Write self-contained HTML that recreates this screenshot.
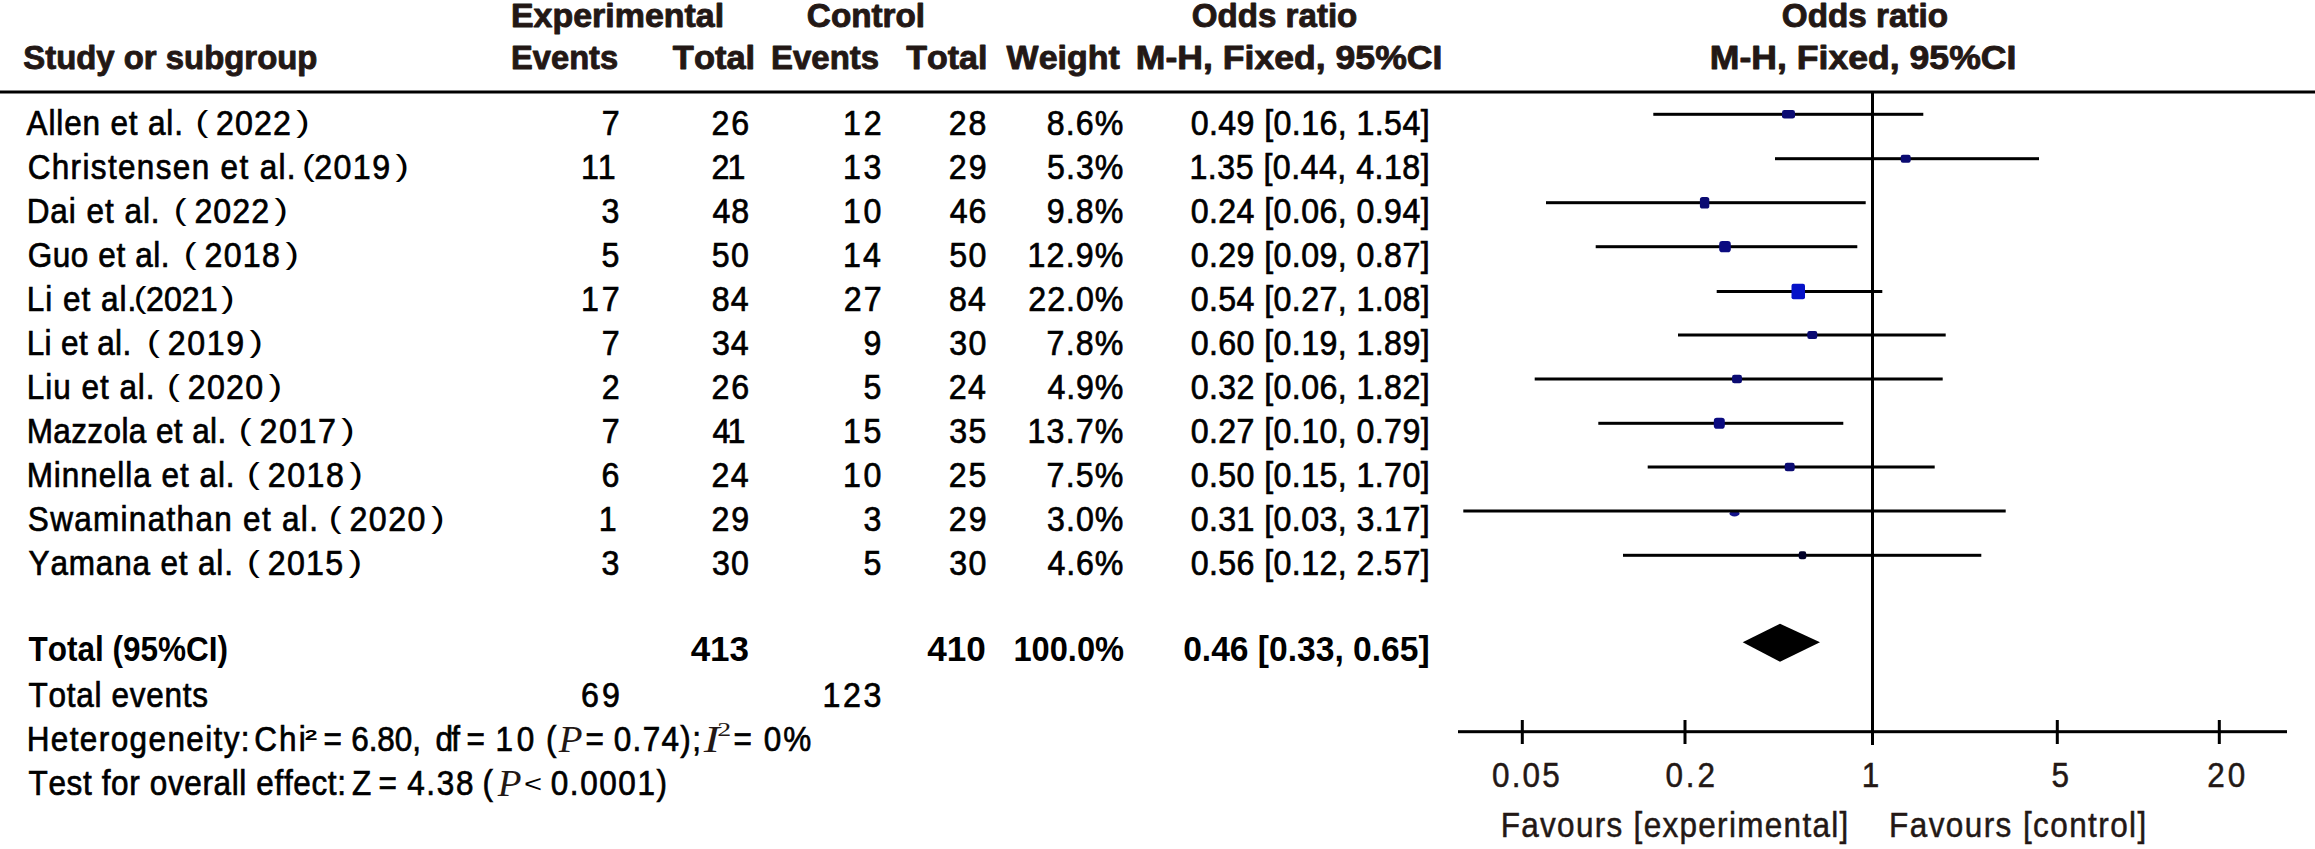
<!DOCTYPE html>
<html><head><meta charset="utf-8"><style>
html,body{margin:0;padding:0;background:#fff;width:2315px;height:849px;overflow:hidden}
svg{display:block}
text{font-family:"Liberation Sans", sans-serif;font-kerning:none;font-feature-settings:"kern" 0,"liga" 0}
text.serif{font-family:"Liberation Serif", serif}
</style></head><body>
<svg width="2315" height="849" viewBox="0 0 2315 849">
<rect width="2315" height="849" fill="#fff"/>
<rect x="0" y="90.5" width="2315" height="3" fill="#000"/>
<rect x="1871" y="92" width="3" height="653" fill="#000"/>
<rect x="1458" y="730.2" width="829" height="3" fill="#000"/>
<rect x="1520.8" y="720" width="3" height="24" fill="#000"/>
<rect x="1683.5" y="720" width="3" height="24" fill="#000"/>
<rect x="2055.8" y="720" width="3" height="24" fill="#000"/>
<rect x="2217.8" y="720" width="3" height="24" fill="#000"/>
<rect x="1871" y="720" width="3" height="25" fill="#000"/>
<rect x="1653.3" y="112.8" width="270.0" height="3" fill="#000"/>
<rect x="1782.0" y="110.0" width="13" height="8.6" rx="2.4" fill="#0b0b72"/>
<rect x="1775.0" y="157.2" width="264.0" height="3" fill="#000"/>
<rect x="1900.7" y="154.7" width="10" height="8" rx="2.2" fill="#0b0b72"/>
<rect x="1546.0" y="201.2" width="319.7" height="3" fill="#000"/>
<rect x="1699.9" y="196.9" width="9.4" height="11.6" rx="2.6" fill="#0b0b72"/>
<rect x="1595.7" y="245.2" width="261.6" height="3" fill="#000"/>
<rect x="1719.2" y="241.1" width="11.6" height="11.2" rx="3.1" fill="#0b0b80"/>
<rect x="1716.7" y="290.0" width="165.6" height="3" fill="#000"/>
<rect x="1791.5" y="283.7" width="13.5" height="15.6" rx="2.0" fill="#0612c8"/>
<rect x="1678.0" y="333.5" width="267.7" height="3" fill="#000"/>
<rect x="1807.3" y="331.0" width="10" height="8" rx="2.2" fill="#0b0b72"/>
<rect x="1534.7" y="377.5" width="408.0" height="3" fill="#000"/>
<rect x="1732.0" y="374.8" width="10" height="8.5" rx="2.4" fill="#0b0b72"/>
<rect x="1598.3" y="421.8" width="245.0" height="3" fill="#000"/>
<rect x="1713.8" y="417.8" width="11" height="11" rx="3.1" fill="#0b0b80"/>
<rect x="1647.7" y="465.5" width="287.0" height="3" fill="#000"/>
<rect x="1784.7" y="462.8" width="10" height="8.5" rx="2.4" fill="#0b0b72"/>
<ellipse cx="1734.5" cy="513.5" rx="5.0" ry="3.0" fill="#14148a"/>
<rect x="1463.3" y="509.5" width="542.4" height="3" fill="#000"/>
<rect x="1623.0" y="553.8" width="358.3" height="3" fill="#000"/>
<rect x="1798.8" y="551.3" width="7.4" height="8" rx="2.1" fill="#000028"/>
<polygon points="1742.7,642.3 1780,623.7 1820,642.3 1780,661.7" fill="#000"/>
<text x="510.98" y="27.00" textLength="213.17" lengthAdjust="spacingAndGlyphs" font-size="33" font-weight="bold" fill="#231815" stroke="#231815" stroke-width="0.9" stroke-linejoin="round">Experimental</text>
<text x="806.89" y="27.00" textLength="118.22" lengthAdjust="spacingAndGlyphs" font-size="33" font-weight="bold" fill="#231815" stroke="#231815" stroke-width="0.9" stroke-linejoin="round">Control</text>
<text x="1191.89" y="27.00" textLength="165.45" lengthAdjust="spacingAndGlyphs" font-size="33" font-weight="bold" fill="#231815" stroke="#231815" stroke-width="0.9" stroke-linejoin="round">Odds ratio</text>
<text x="1781.89" y="27.00" textLength="166.16" lengthAdjust="spacingAndGlyphs" font-size="33" font-weight="bold" fill="#231815" stroke="#231815" stroke-width="0.9" stroke-linejoin="round">Odds ratio</text>
<text x="23.30" y="69.00" textLength="294.10" lengthAdjust="spacingAndGlyphs" font-size="33" font-weight="bold" fill="#231815" stroke="#231815" stroke-width="0.9" stroke-linejoin="round">Study or subgroup</text>
<text x="511.07" y="69.00" textLength="107.02" lengthAdjust="spacingAndGlyphs" font-size="33" font-weight="bold" fill="#231815" stroke="#231815" stroke-width="0.9" stroke-linejoin="round">Events</text>
<text x="672.86" y="69.00" textLength="82.33" lengthAdjust="spacingAndGlyphs" font-size="33" font-weight="bold" fill="#231815" stroke="#231815" stroke-width="0.9" stroke-linejoin="round">Total</text>
<text x="771.05" y="69.00" textLength="108.06" lengthAdjust="spacingAndGlyphs" font-size="33" font-weight="bold" fill="#231815" stroke="#231815" stroke-width="0.9" stroke-linejoin="round">Events</text>
<text x="906.27" y="69.00" textLength="81.19" lengthAdjust="spacingAndGlyphs" font-size="33" font-weight="bold" fill="#231815" stroke="#231815" stroke-width="0.9" stroke-linejoin="round">Total</text>
<text x="1006.62" y="69.00" textLength="113.15" lengthAdjust="spacingAndGlyphs" font-size="33" font-weight="bold" fill="#231815" stroke="#231815" stroke-width="0.9" stroke-linejoin="round">Weight</text>
<text x="1135.87" y="69.00" textLength="306.56" lengthAdjust="spacingAndGlyphs" font-size="33" font-weight="bold" fill="#231815" stroke="#231815" stroke-width="0.9" stroke-linejoin="round">M-H, Fixed, 95%CI</text>
<text x="1709.87" y="69.00" textLength="306.56" lengthAdjust="spacingAndGlyphs" font-size="33" font-weight="bold" fill="#231815" stroke="#231815" stroke-width="0.9" stroke-linejoin="round">M-H, Fixed, 95%CI</text>
<g transform="scale(0.9,1)"><text x="29.54" y="135.00" textLength="173.71" lengthAdjust="spacing" font-size="35" font-weight="normal" fill="#000" stroke="#000" stroke-width="0.7">Allen et al.</text></g>
<text x="195.41" y="131.50" textLength="12.81" lengthAdjust="spacingAndGlyphs" font-size="30" font-weight="normal" fill="#000">(</text>
<text x="296.26" y="131.50" textLength="13.44" lengthAdjust="spacingAndGlyphs" font-size="30" font-weight="normal" fill="#000">)</text>
<g transform="scale(0.92,1)"><text x="234.82" y="135.00" textLength="81.35" lengthAdjust="spacing" font-size="35" font-weight="normal" fill="#000" stroke="#000" stroke-width="0.7">2022</text></g>
<g transform="scale(0.92,1)"><text x="654.03" y="135.00" font-size="35" font-weight="normal" fill="#000" stroke="#000" stroke-width="0.7">7</text></g>
<g transform="scale(0.92,1)"><text x="773.40" y="135.00" textLength="40.91" lengthAdjust="spacing" font-size="35" font-weight="normal" fill="#000" stroke="#000" stroke-width="0.7">26</text></g>
<g transform="scale(0.92,1)"><text x="916.30" y="135.00" textLength="42.03" lengthAdjust="spacing" font-size="35" font-weight="normal" fill="#000" stroke="#000" stroke-width="0.7">12</text></g>
<g transform="scale(0.92,1)"><text x="1031.34" y="135.00" textLength="40.89" lengthAdjust="spacing" font-size="35" font-weight="normal" fill="#000" stroke="#000" stroke-width="0.7">28</text></g>
<g transform="scale(0.92,1)"><text x="1137.88" y="135.00" textLength="83.31" lengthAdjust="spacing" font-size="35" font-weight="normal" fill="#000" stroke="#000" stroke-width="0.7">8.6%</text></g>
<g transform="scale(0.92,1)"><text x="1294.23" y="135.00" textLength="259.73" lengthAdjust="spacing" font-size="35" font-weight="normal" fill="#000" stroke="#000" stroke-width="0.7">0.49 [0.16, 1.54]</text></g>
<g transform="scale(0.9,1)"><text x="30.72" y="179.00" textLength="297.75" lengthAdjust="spacing" font-size="35" font-weight="normal" fill="#000" stroke="#000" stroke-width="0.7">Christensen et al.</text></g>
<text x="302.11" y="175.50" textLength="12.81" lengthAdjust="spacingAndGlyphs" font-size="30" font-weight="normal" fill="#000">(</text>
<text x="395.56" y="175.50" textLength="13.44" lengthAdjust="spacingAndGlyphs" font-size="30" font-weight="normal" fill="#000">)</text>
<g transform="scale(0.92,1)"><text x="341.66" y="179.00" textLength="82.33" lengthAdjust="spacing" font-size="35" font-weight="normal" fill="#000" stroke="#000" stroke-width="0.7">2019</text></g>
<g transform="scale(0.92,1)"><text x="631.52" y="179.00" textLength="37.64" lengthAdjust="spacing" font-size="35" font-weight="normal" fill="#000" stroke="#000" stroke-width="0.7">11</text></g>
<g transform="scale(0.92,1)"><text x="773.40" y="179.00" textLength="36.73" lengthAdjust="spacing" font-size="35" font-weight="normal" fill="#000" stroke="#000" stroke-width="0.7">21</text></g>
<g transform="scale(0.92,1)"><text x="916.30" y="179.00" textLength="41.81" lengthAdjust="spacing" font-size="35" font-weight="normal" fill="#000" stroke="#000" stroke-width="0.7">13</text></g>
<g transform="scale(0.92,1)"><text x="1031.34" y="179.00" textLength="41.03" lengthAdjust="spacing" font-size="35" font-weight="normal" fill="#000" stroke="#000" stroke-width="0.7">29</text></g>
<g transform="scale(0.92,1)"><text x="1138.00" y="179.00" textLength="83.19" lengthAdjust="spacing" font-size="35" font-weight="normal" fill="#000" stroke="#000" stroke-width="0.7">5.3%</text></g>
<g transform="scale(0.92,1)"><text x="1292.93" y="179.00" textLength="261.03" lengthAdjust="spacing" font-size="35" font-weight="normal" fill="#000" stroke="#000" stroke-width="0.7">1.35 [0.44, 4.18]</text></g>
<g transform="scale(0.9,1)"><text x="29.63" y="223.00" textLength="147.73" lengthAdjust="spacing" font-size="35" font-weight="normal" fill="#000" stroke="#000" stroke-width="0.7">Dai et al.</text></g>
<text x="173.81" y="219.50" textLength="12.81" lengthAdjust="spacingAndGlyphs" font-size="30" font-weight="normal" fill="#000">(</text>
<text x="274.56" y="219.50" textLength="13.44" lengthAdjust="spacingAndGlyphs" font-size="30" font-weight="normal" fill="#000">)</text>
<g transform="scale(0.92,1)"><text x="211.34" y="223.00" textLength="81.24" lengthAdjust="spacing" font-size="35" font-weight="normal" fill="#000" stroke="#000" stroke-width="0.7">2022</text></g>
<g transform="scale(0.92,1)"><text x="653.81" y="223.00" font-size="35" font-weight="normal" fill="#000" stroke="#000" stroke-width="0.7">3</text></g>
<g transform="scale(0.92,1)"><text x="774.36" y="223.00" textLength="39.93" lengthAdjust="spacing" font-size="35" font-weight="normal" fill="#000" stroke="#000" stroke-width="0.7">48</text></g>
<g transform="scale(0.92,1)"><text x="916.30" y="223.00" textLength="41.64" lengthAdjust="spacing" font-size="35" font-weight="normal" fill="#000" stroke="#000" stroke-width="0.7">10</text></g>
<g transform="scale(0.92,1)"><text x="1032.29" y="223.00" textLength="39.95" lengthAdjust="spacing" font-size="35" font-weight="normal" fill="#000" stroke="#000" stroke-width="0.7">46</text></g>
<g transform="scale(0.92,1)"><text x="1137.76" y="223.00" textLength="83.43" lengthAdjust="spacing" font-size="35" font-weight="normal" fill="#000" stroke="#000" stroke-width="0.7">9.8%</text></g>
<g transform="scale(0.92,1)"><text x="1294.23" y="223.00" textLength="259.73" lengthAdjust="spacing" font-size="35" font-weight="normal" fill="#000" stroke="#000" stroke-width="0.7">0.24 [0.06, 0.94]</text></g>
<g transform="scale(0.9,1)"><text x="30.74" y="267.00" textLength="157.73" lengthAdjust="spacing" font-size="35" font-weight="normal" fill="#000" stroke="#000" stroke-width="0.7">Guo et al.</text></g>
<text x="183.81" y="263.50" textLength="12.81" lengthAdjust="spacingAndGlyphs" font-size="30" font-weight="normal" fill="#000">(</text>
<text x="285.56" y="263.50" textLength="13.44" lengthAdjust="spacingAndGlyphs" font-size="30" font-weight="normal" fill="#000">)</text>
<g transform="scale(0.92,1)"><text x="222.21" y="267.00" textLength="82.09" lengthAdjust="spacing" font-size="35" font-weight="normal" fill="#000" stroke="#000" stroke-width="0.7">2018</text></g>
<g transform="scale(0.92,1)"><text x="653.74" y="267.00" font-size="35" font-weight="normal" fill="#000" stroke="#000" stroke-width="0.7">5</text></g>
<g transform="scale(0.92,1)"><text x="773.76" y="267.00" textLength="40.38" lengthAdjust="spacing" font-size="35" font-weight="normal" fill="#000" stroke="#000" stroke-width="0.7">50</text></g>
<g transform="scale(0.92,1)"><text x="916.30" y="267.00" textLength="41.30" lengthAdjust="spacing" font-size="35" font-weight="normal" fill="#000" stroke="#000" stroke-width="0.7">14</text></g>
<g transform="scale(0.92,1)"><text x="1031.70" y="267.00" textLength="40.38" lengthAdjust="spacing" font-size="35" font-weight="normal" fill="#000" stroke="#000" stroke-width="0.7">50</text></g>
<g transform="scale(0.92,1)"><text x="1116.84" y="267.00" textLength="104.35" lengthAdjust="spacing" font-size="35" font-weight="normal" fill="#000" stroke="#000" stroke-width="0.7">12.9%</text></g>
<g transform="scale(0.92,1)"><text x="1294.23" y="267.00" textLength="259.73" lengthAdjust="spacing" font-size="35" font-weight="normal" fill="#000" stroke="#000" stroke-width="0.7">0.29 [0.09, 0.87]</text></g>
<g transform="scale(0.9,1)"><text x="29.63" y="311.00" textLength="121.73" lengthAdjust="spacing" font-size="35" font-weight="normal" fill="#000" stroke="#000" stroke-width="0.7">Li et al.</text></g>
<text x="133.81" y="307.50" textLength="12.81" lengthAdjust="spacingAndGlyphs" font-size="30" font-weight="normal" fill="#000">(</text>
<text x="221.26" y="307.50" textLength="13.44" lengthAdjust="spacingAndGlyphs" font-size="30" font-weight="normal" fill="#000">)</text>
<g transform="scale(0.92,1)"><text x="158.73" y="311.00" textLength="77.82" lengthAdjust="spacing" font-size="35" font-weight="normal" fill="#000" stroke="#000" stroke-width="0.7">2021</text></g>
<g transform="scale(0.92,1)"><text x="631.52" y="311.00" textLength="42.03" lengthAdjust="spacing" font-size="35" font-weight="normal" fill="#000" stroke="#000" stroke-width="0.7">17</text></g>
<g transform="scale(0.92,1)"><text x="773.64" y="311.00" textLength="40.16" lengthAdjust="spacing" font-size="35" font-weight="normal" fill="#000" stroke="#000" stroke-width="0.7">84</text></g>
<g transform="scale(0.92,1)"><text x="917.21" y="311.00" textLength="41.13" lengthAdjust="spacing" font-size="35" font-weight="normal" fill="#000" stroke="#000" stroke-width="0.7">27</text></g>
<g transform="scale(0.92,1)"><text x="1031.58" y="311.00" textLength="40.16" lengthAdjust="spacing" font-size="35" font-weight="normal" fill="#000" stroke="#000" stroke-width="0.7">84</text></g>
<g transform="scale(0.92,1)"><text x="1117.75" y="311.00" textLength="103.44" lengthAdjust="spacing" font-size="35" font-weight="normal" fill="#000" stroke="#000" stroke-width="0.7">22.0%</text></g>
<g transform="scale(0.92,1)"><text x="1294.23" y="311.00" textLength="259.73" lengthAdjust="spacing" font-size="35" font-weight="normal" fill="#000" stroke="#000" stroke-width="0.7">0.54 [0.27, 1.08]</text></g>
<g transform="scale(0.9,1)"><text x="29.63" y="355.00" textLength="116.18" lengthAdjust="spacing" font-size="35" font-weight="normal" fill="#000" stroke="#000" stroke-width="0.7">Li et al.</text></g>
<text x="147.11" y="351.50" textLength="12.81" lengthAdjust="spacingAndGlyphs" font-size="30" font-weight="normal" fill="#000">(</text>
<text x="249.56" y="351.50" textLength="13.44" lengthAdjust="spacingAndGlyphs" font-size="30" font-weight="normal" fill="#000">)</text>
<g transform="scale(0.92,1)"><text x="182.32" y="355.00" textLength="82.98" lengthAdjust="spacing" font-size="35" font-weight="normal" fill="#000" stroke="#000" stroke-width="0.7">2019</text></g>
<g transform="scale(0.92,1)"><text x="654.03" y="355.00" font-size="35" font-weight="normal" fill="#000" stroke="#000" stroke-width="0.7">7</text></g>
<g transform="scale(0.92,1)"><text x="773.83" y="355.00" textLength="39.97" lengthAdjust="spacing" font-size="35" font-weight="normal" fill="#000" stroke="#000" stroke-width="0.7">34</text></g>
<g transform="scale(0.92,1)"><text x="938.71" y="355.00" font-size="35" font-weight="normal" fill="#000" stroke="#000" stroke-width="0.7">9</text></g>
<g transform="scale(0.92,1)"><text x="1031.76" y="355.00" textLength="40.31" lengthAdjust="spacing" font-size="35" font-weight="normal" fill="#000" stroke="#000" stroke-width="0.7">30</text></g>
<g transform="scale(0.92,1)"><text x="1137.61" y="355.00" textLength="83.59" lengthAdjust="spacing" font-size="35" font-weight="normal" fill="#000" stroke="#000" stroke-width="0.7">7.8%</text></g>
<g transform="scale(0.92,1)"><text x="1294.23" y="355.00" textLength="259.73" lengthAdjust="spacing" font-size="35" font-weight="normal" fill="#000" stroke="#000" stroke-width="0.7">0.60 [0.19, 1.89]</text></g>
<g transform="scale(0.9,1)"><text x="29.63" y="399.00" textLength="142.18" lengthAdjust="spacing" font-size="35" font-weight="normal" fill="#000" stroke="#000" stroke-width="0.7">Liu et al.</text></g>
<text x="167.11" y="395.50" textLength="12.81" lengthAdjust="spacingAndGlyphs" font-size="30" font-weight="normal" fill="#000">(</text>
<text x="268.86" y="395.50" textLength="13.44" lengthAdjust="spacingAndGlyphs" font-size="30" font-weight="normal" fill="#000">)</text>
<g transform="scale(0.92,1)"><text x="204.05" y="399.00" textLength="81.93" lengthAdjust="spacing" font-size="35" font-weight="normal" fill="#000" stroke="#000" stroke-width="0.7">2020</text></g>
<g transform="scale(0.92,1)"><text x="654.03" y="399.00" font-size="35" font-weight="normal" fill="#000" stroke="#000" stroke-width="0.7">2</text></g>
<g transform="scale(0.92,1)"><text x="773.40" y="399.00" textLength="40.91" lengthAdjust="spacing" font-size="35" font-weight="normal" fill="#000" stroke="#000" stroke-width="0.7">26</text></g>
<g transform="scale(0.92,1)"><text x="938.53" y="399.00" font-size="35" font-weight="normal" fill="#000" stroke="#000" stroke-width="0.7">5</text></g>
<g transform="scale(0.92,1)"><text x="1031.34" y="399.00" textLength="40.39" lengthAdjust="spacing" font-size="35" font-weight="normal" fill="#000" stroke="#000" stroke-width="0.7">24</text></g>
<g transform="scale(0.92,1)"><text x="1138.60" y="399.00" textLength="82.59" lengthAdjust="spacing" font-size="35" font-weight="normal" fill="#000" stroke="#000" stroke-width="0.7">4.9%</text></g>
<g transform="scale(0.92,1)"><text x="1294.23" y="399.00" textLength="259.73" lengthAdjust="spacing" font-size="35" font-weight="normal" fill="#000" stroke="#000" stroke-width="0.7">0.32 [0.06, 1.82]</text></g>
<g transform="scale(0.9,1)"><text x="29.63" y="443.00" textLength="221.73" lengthAdjust="spacing" font-size="35" font-weight="normal" fill="#000" stroke="#000" stroke-width="0.7">Mazzola et al.</text></g>
<text x="238.81" y="439.50" textLength="12.81" lengthAdjust="spacingAndGlyphs" font-size="30" font-weight="normal" fill="#000">(</text>
<text x="341.26" y="439.50" textLength="13.44" lengthAdjust="spacingAndGlyphs" font-size="30" font-weight="normal" fill="#000">)</text>
<g transform="scale(0.92,1)"><text x="281.99" y="443.00" textLength="83.09" lengthAdjust="spacing" font-size="35" font-weight="normal" fill="#000" stroke="#000" stroke-width="0.7">2017</text></g>
<g transform="scale(0.92,1)"><text x="654.03" y="443.00" font-size="35" font-weight="normal" fill="#000" stroke="#000" stroke-width="0.7">7</text></g>
<g transform="scale(0.92,1)"><text x="774.36" y="443.00" textLength="35.77" lengthAdjust="spacing" font-size="35" font-weight="normal" fill="#000" stroke="#000" stroke-width="0.7">41</text></g>
<g transform="scale(0.92,1)"><text x="916.30" y="443.00" textLength="41.74" lengthAdjust="spacing" font-size="35" font-weight="normal" fill="#000" stroke="#000" stroke-width="0.7">15</text></g>
<g transform="scale(0.92,1)"><text x="1031.76" y="443.00" textLength="40.41" lengthAdjust="spacing" font-size="35" font-weight="normal" fill="#000" stroke="#000" stroke-width="0.7">35</text></g>
<g transform="scale(0.92,1)"><text x="1116.84" y="443.00" textLength="104.35" lengthAdjust="spacing" font-size="35" font-weight="normal" fill="#000" stroke="#000" stroke-width="0.7">13.7%</text></g>
<g transform="scale(0.92,1)"><text x="1294.23" y="443.00" textLength="259.73" lengthAdjust="spacing" font-size="35" font-weight="normal" fill="#000" stroke="#000" stroke-width="0.7">0.27 [0.10, 0.79]</text></g>
<g transform="scale(0.9,1)"><text x="29.63" y="487.00" textLength="231.07" lengthAdjust="spacing" font-size="35" font-weight="normal" fill="#000" stroke="#000" stroke-width="0.7">Minnella et al.</text></g>
<text x="247.11" y="483.50" textLength="12.81" lengthAdjust="spacingAndGlyphs" font-size="30" font-weight="normal" fill="#000">(</text>
<text x="349.56" y="483.50" textLength="13.44" lengthAdjust="spacingAndGlyphs" font-size="30" font-weight="normal" fill="#000">)</text>
<g transform="scale(0.92,1)"><text x="291.01" y="487.00" textLength="82.85" lengthAdjust="spacing" font-size="35" font-weight="normal" fill="#000" stroke="#000" stroke-width="0.7">2018</text></g>
<g transform="scale(0.92,1)"><text x="653.81" y="487.00" font-size="35" font-weight="normal" fill="#000" stroke="#000" stroke-width="0.7">6</text></g>
<g transform="scale(0.92,1)"><text x="773.40" y="487.00" textLength="40.39" lengthAdjust="spacing" font-size="35" font-weight="normal" fill="#000" stroke="#000" stroke-width="0.7">24</text></g>
<g transform="scale(0.92,1)"><text x="916.30" y="487.00" textLength="41.64" lengthAdjust="spacing" font-size="35" font-weight="normal" fill="#000" stroke="#000" stroke-width="0.7">10</text></g>
<g transform="scale(0.92,1)"><text x="1031.34" y="487.00" textLength="40.84" lengthAdjust="spacing" font-size="35" font-weight="normal" fill="#000" stroke="#000" stroke-width="0.7">25</text></g>
<g transform="scale(0.92,1)"><text x="1137.61" y="487.00" textLength="83.59" lengthAdjust="spacing" font-size="35" font-weight="normal" fill="#000" stroke="#000" stroke-width="0.7">7.5%</text></g>
<g transform="scale(0.92,1)"><text x="1294.23" y="487.00" textLength="259.73" lengthAdjust="spacing" font-size="35" font-weight="normal" fill="#000" stroke="#000" stroke-width="0.7">0.50 [0.15, 1.70]</text></g>
<g transform="scale(0.9,1)"><text x="30.91" y="531.00" textLength="322.34" lengthAdjust="spacing" font-size="35" font-weight="normal" fill="#000" stroke="#000" stroke-width="0.7">Swaminathan et al.</text></g>
<text x="328.81" y="527.50" textLength="12.81" lengthAdjust="spacingAndGlyphs" font-size="30" font-weight="normal" fill="#000">(</text>
<text x="431.26" y="527.50" textLength="13.44" lengthAdjust="spacingAndGlyphs" font-size="30" font-weight="normal" fill="#000">)</text>
<g transform="scale(0.92,1)"><text x="379.82" y="531.00" textLength="82.69" lengthAdjust="spacing" font-size="35" font-weight="normal" fill="#000" stroke="#000" stroke-width="0.7">2020</text></g>
<g transform="scale(0.92,1)"><text x="650.72" y="531.00" font-size="35" font-weight="normal" fill="#000" stroke="#000" stroke-width="0.7">1</text></g>
<g transform="scale(0.92,1)"><text x="773.40" y="531.00" textLength="41.03" lengthAdjust="spacing" font-size="35" font-weight="normal" fill="#000" stroke="#000" stroke-width="0.7">29</text></g>
<g transform="scale(0.92,1)"><text x="938.59" y="531.00" font-size="35" font-weight="normal" fill="#000" stroke="#000" stroke-width="0.7">3</text></g>
<g transform="scale(0.92,1)"><text x="1031.34" y="531.00" textLength="41.03" lengthAdjust="spacing" font-size="35" font-weight="normal" fill="#000" stroke="#000" stroke-width="0.7">29</text></g>
<g transform="scale(0.92,1)"><text x="1138.07" y="531.00" textLength="83.12" lengthAdjust="spacing" font-size="35" font-weight="normal" fill="#000" stroke="#000" stroke-width="0.7">3.0%</text></g>
<g transform="scale(0.92,1)"><text x="1294.23" y="531.00" textLength="259.73" lengthAdjust="spacing" font-size="35" font-weight="normal" fill="#000" stroke="#000" stroke-width="0.7">0.31 [0.03, 3.17]</text></g>
<g transform="scale(0.9,1)"><text x="31.73" y="575.00" textLength="227.08" lengthAdjust="spacing" font-size="35" font-weight="normal" fill="#000" stroke="#000" stroke-width="0.7">Yamana et al.</text></g>
<text x="247.11" y="571.50" textLength="12.81" lengthAdjust="spacingAndGlyphs" font-size="30" font-weight="normal" fill="#000">(</text>
<text x="348.86" y="571.50" textLength="13.44" lengthAdjust="spacingAndGlyphs" font-size="30" font-weight="normal" fill="#000">)</text>
<g transform="scale(0.92,1)"><text x="291.01" y="575.00" textLength="82.03" lengthAdjust="spacing" font-size="35" font-weight="normal" fill="#000" stroke="#000" stroke-width="0.7">2015</text></g>
<g transform="scale(0.92,1)"><text x="653.81" y="575.00" font-size="35" font-weight="normal" fill="#000" stroke="#000" stroke-width="0.7">3</text></g>
<g transform="scale(0.92,1)"><text x="773.83" y="575.00" textLength="40.31" lengthAdjust="spacing" font-size="35" font-weight="normal" fill="#000" stroke="#000" stroke-width="0.7">30</text></g>
<g transform="scale(0.92,1)"><text x="938.53" y="575.00" font-size="35" font-weight="normal" fill="#000" stroke="#000" stroke-width="0.7">5</text></g>
<g transform="scale(0.92,1)"><text x="1031.76" y="575.00" textLength="40.31" lengthAdjust="spacing" font-size="35" font-weight="normal" fill="#000" stroke="#000" stroke-width="0.7">30</text></g>
<g transform="scale(0.92,1)"><text x="1138.60" y="575.00" textLength="82.59" lengthAdjust="spacing" font-size="35" font-weight="normal" fill="#000" stroke="#000" stroke-width="0.7">4.6%</text></g>
<g transform="scale(0.92,1)"><text x="1294.23" y="575.00" textLength="259.73" lengthAdjust="spacing" font-size="35" font-weight="normal" fill="#000" stroke="#000" stroke-width="0.7">0.56 [0.12, 2.57]</text></g>
<text x="28.45" y="661.00" textLength="199.62" lengthAdjust="spacingAndGlyphs" font-size="35" font-weight="bold" fill="#000">Total (95%CI)</text>
<text x="690.67" y="661.00" textLength="58.39" lengthAdjust="spacingAndGlyphs" font-size="35" font-weight="bold" fill="#000">413</text>
<text x="927.27" y="661.00" textLength="58.67" lengthAdjust="spacingAndGlyphs" font-size="35" font-weight="bold" fill="#000">410</text>
<text x="1013.45" y="661.00" textLength="110.61" lengthAdjust="spacingAndGlyphs" font-size="35" font-weight="bold" fill="#000">100.0%</text>
<text x="1183.17" y="661.00" textLength="246.51" lengthAdjust="spacingAndGlyphs" font-size="35" font-weight="bold" fill="#000">0.46 [0.33, 0.65]</text>
<g transform="scale(0.9,1)"><text x="31.71" y="707.50" textLength="199.27" lengthAdjust="spacing" font-size="35" font-weight="normal" fill="#000" stroke="#000" stroke-width="0.7">Total events</text></g>
<g transform="scale(0.92,1)"><text x="631.54" y="707.50" textLength="42.24" lengthAdjust="spacing" font-size="35" font-weight="normal" fill="#000" stroke="#000" stroke-width="0.7">69</text></g>
<g transform="scale(0.92,1)"><text x="894.02" y="707.50" textLength="64.10" lengthAdjust="spacing" font-size="35" font-weight="normal" fill="#000" stroke="#000" stroke-width="0.7">123</text></g>
<g transform="scale(0.9,1)"><text x="29.63" y="751.50" textLength="247.73" lengthAdjust="spacing" font-size="35" font-weight="normal" fill="#000" stroke="#000" stroke-width="0.7">Heterogeneity:</text></g>
<g transform="scale(0.9,1)"><text x="282.50" y="751.50" textLength="57.25" lengthAdjust="spacing" font-size="35" font-weight="normal" fill="#000" stroke="#000" stroke-width="0.7">Chi</text></g>
<g transform="scale(0.9,1)"><text x="359.35" y="751.50" textLength="20.21" lengthAdjust="spacing" font-size="35" font-weight="normal" fill="#000" stroke="#000" stroke-width="0.7">=</text></g>
<g transform="scale(0.9,1)"><text x="390.39" y="751.50" textLength="77.26" lengthAdjust="spacing" font-size="35" font-weight="normal" fill="#000" stroke="#000" stroke-width="0.7">6.80,</text></g>
<g transform="scale(0.9,1)"><text x="484.03" y="751.50" textLength="27.09" lengthAdjust="spacing" font-size="35" font-weight="normal" fill="#000" stroke="#000" stroke-width="0.7">df</text></g>
<g transform="scale(0.9,1)"><text x="518.24" y="751.50" textLength="20.21" lengthAdjust="spacing" font-size="35" font-weight="normal" fill="#000" stroke="#000" stroke-width="0.7">=</text></g>
<g transform="scale(0.9,1)"><text x="550.61" y="751.50" textLength="43.03" lengthAdjust="spacing" font-size="35" font-weight="normal" fill="#000" stroke="#000" stroke-width="0.7">10</text></g>
<g transform="scale(0.9,1)"><text x="606.66" y="751.50" textLength="11.38" lengthAdjust="spacing" font-size="35" font-weight="normal" fill="#000" stroke="#000" stroke-width="0.7">(</text></g>
<text x="558.71" y="751.50" textLength="23.78" lengthAdjust="spacingAndGlyphs" font-size="37" font-weight="normal" fill="#231815" style="font-family:Liberation Serif, serif;font-style:italic">P</text>
<g transform="scale(0.9,1)"><text x="650.46" y="751.50" textLength="21.32" lengthAdjust="spacing" font-size="35" font-weight="normal" fill="#000" stroke="#000" stroke-width="0.7">=</text></g>
<g transform="scale(0.9,1)"><text x="681.91" y="751.50" textLength="96.85" lengthAdjust="spacing" font-size="35" font-weight="normal" fill="#000" stroke="#000" stroke-width="0.7">0.74);</text></g>
<text x="703.69" y="751.50" textLength="15.94" lengthAdjust="spacingAndGlyphs" font-size="37" font-weight="normal" fill="#231815" style="font-family:Liberation Serif, serif;font-style:italic">I</text>
<g transform="scale(0.9,1)"><text x="814.90" y="751.50" textLength="23.55" lengthAdjust="spacing" font-size="35" font-weight="normal" fill="#000" stroke="#000" stroke-width="0.7">=</text></g>
<g transform="scale(0.9,1)"><text x="848.58" y="751.50" textLength="52.73" lengthAdjust="spacing" font-size="35" font-weight="normal" fill="#000" stroke="#000" stroke-width="0.7">0%</text></g>
<text x="717.27" y="736.20" textLength="13.97" lengthAdjust="spacingAndGlyphs" font-size="18" font-weight="normal" fill="#231815" style="font-family:Liberation Serif, serif">2</text>
<text x="304.71" y="740.00" textLength="12.71" lengthAdjust="spacingAndGlyphs" font-size="15" font-weight="bold" fill="#000">2</text>
<g transform="scale(0.9,1)"><text x="31.71" y="795.50" textLength="352.65" lengthAdjust="spacing" font-size="35" font-weight="normal" fill="#000" stroke="#000" stroke-width="0.7">Test for overall effect:</text></g>
<g transform="scale(0.9,1)"><text x="391.06" y="795.50" textLength="23.43" lengthAdjust="spacing" font-size="35" font-weight="normal" fill="#000" stroke="#000" stroke-width="0.7">Z</text></g>
<g transform="scale(0.9,1)"><text x="420.46" y="795.50" textLength="22.44" lengthAdjust="spacing" font-size="35" font-weight="normal" fill="#000" stroke="#000" stroke-width="0.7">=</text></g>
<g transform="scale(0.9,1)"><text x="452.47" y="795.50" textLength="73.55" lengthAdjust="spacing" font-size="35" font-weight="normal" fill="#000" stroke="#000" stroke-width="0.7">4.38</text></g>
<g transform="scale(0.9,1)"><text x="536.11" y="795.50" textLength="12.49" lengthAdjust="spacing" font-size="35" font-weight="normal" fill="#000" stroke="#000" stroke-width="0.7">(</text></g>
<text x="497.71" y="795.50" textLength="23.78" lengthAdjust="spacingAndGlyphs" font-size="37" font-weight="normal" fill="#231815" style="font-family:Liberation Serif, serif;font-style:italic">P</text>
<text x="523.98" y="791.50" textLength="18.03" lengthAdjust="spacingAndGlyphs" font-size="24" font-weight="normal" fill="#000">&lt;</text>
<g transform="scale(0.9,1)"><text x="611.91" y="795.50" textLength="129.20" lengthAdjust="spacing" font-size="35" font-weight="normal" fill="#000" stroke="#000" stroke-width="0.7">0.0001)</text></g>
<g transform="scale(0.9,1)"><text x="1657.80" y="786.70" textLength="75.17" lengthAdjust="spacing" font-size="35" font-weight="normal" fill="#231815" stroke="#231815" stroke-width="0.5">0.05</text></g>
<g transform="scale(0.9,1)"><text x="1850.47" y="786.70" textLength="55.02" lengthAdjust="spacing" font-size="35" font-weight="normal" fill="#231815" stroke="#231815" stroke-width="0.5">0.2</text></g>
<g transform="scale(0.9,1)"><text x="2068.72" y="786.70" textLength="19.38" lengthAdjust="spacing" font-size="35" font-weight="normal" fill="#231815" stroke="#231815" stroke-width="0.5">1</text></g>
<g transform="scale(0.9,1)"><text x="2279.32" y="786.70" textLength="20.32" lengthAdjust="spacing" font-size="35" font-weight="normal" fill="#231815" stroke="#231815" stroke-width="0.5">5</text></g>
<g transform="scale(0.9,1)"><text x="2452.63" y="786.70" textLength="42.13" lengthAdjust="spacing" font-size="35" font-weight="normal" fill="#231815" stroke="#231815" stroke-width="0.5">20</text></g>
<g transform="scale(0.9,1)"><text x="1667.41" y="836.70" textLength="386.26" lengthAdjust="spacing" font-size="35" font-weight="normal" fill="#231815" stroke="#231815" stroke-width="0.5">Favours [experimental]</text></g>
<g transform="scale(0.9,1)"><text x="2098.96" y="836.70" textLength="285.81" lengthAdjust="spacing" font-size="35" font-weight="normal" fill="#231815" stroke="#231815" stroke-width="0.5">Favours [control]</text></g>
</svg>
</body></html>
